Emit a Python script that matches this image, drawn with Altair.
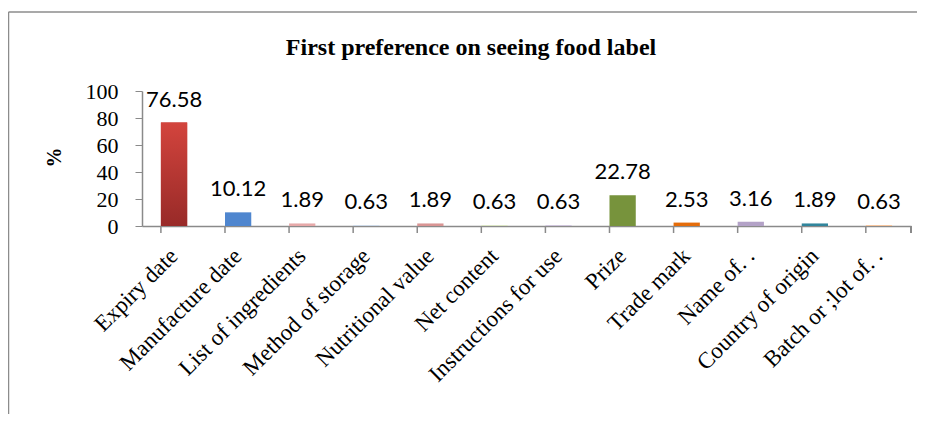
import altair as alt
import pandas as pd

categories = ["Expiry date", "Manufacture date", "List of ingredients", "Method of storage",
              "Nutritional value", "Net content", "Instructions for use", "Prize",
              "Trade mark", "Name of. .", "Country of origin", "Batch or ;lot of. ."]
values = [76.58, 10.12, 1.89, 0.63, 1.89, 0.63, 0.63, 22.78, 2.53, 3.16, 1.89, 0.63]
colors = ["#be3a34", "#4f86cf", "#e6a9a9", "#c9d7e8", "#d99594", "#d9e4bd",
          "#ccc0da", "#77933c", "#e46c0a", "#b3a2c7", "#31859c", "#fac090"]
title_text = "First preference on seeing food label"
y_ticks = [0, 20, 40, 60, 80, 100]

W, H = 769, 135

df = pd.DataFrame({"cat": categories, "val": values, "col": colors})

x_axis = alt.Axis(title=None, labelAngle=-45, labelAlign="right", labelBaseline="middle",
                  labelFont="Liberation Serif", labelFontSize=23, labelColor="#000000",
                  labelPadding=26, labelOverlap=False, labelLimit=500, ticks=False,
                  domainColor="#8a8a8a", domainWidth=1.5)
y_axis = alt.Axis(title="%", values=y_ticks, grid=False, tickSize=7, tickColor="#8a8a8a",
                  domainColor="#8a8a8a", domainWidth=1.5, labelFont="Liberation Serif",
                  labelFontSize=22, labelColor="#000000", labelPadding=17,
                  labelOverlap=False,
                  titleFont="Liberation Serif", titleFontSize=20, titleFontWeight="bold",
                  titleAngle=-90, titleX=-88, titleY=66, titleAlign="center",
                  titleBaseline="middle", titleColor="#000000")
x_scale = alt.Scale(paddingInner=0.59, paddingOuter=0.295)
y_scale = alt.Scale(domain=[0, 100])

x_enc = alt.X("cat:N", sort=categories, scale=x_scale, axis=x_axis)
y_enc = alt.Y("val:Q", scale=y_scale, axis=y_axis)

base = alt.Chart(df)

bars = base.mark_bar().encode(
    x=x_enc, y=y_enc,
    color=alt.Color("col:N", scale=None, legend=None),
)

red_grad = {"gradient": "linear", "x1": 0, "y1": 0, "x2": 0, "y2": 1,
            "stops": [{"offset": 0, "color": "#d3443d"}, {"offset": 1, "color": "#982a28"}]}
red_bar = base.transform_filter(alt.datum.cat == categories[0]).mark_bar().encode(
    x=x_enc, y=y_enc, color=alt.value(red_grad))

labels = base.mark_text(font="Lato", fontSize=22, color="#000000", baseline="alphabetic",
                        dy=-16).encode(
    x=x_enc, y=y_enc, text=alt.Text("val:Q", format=".2f"))

ticks = base.mark_rule(color="#8a8a8a", strokeWidth=1.5).encode(
    x=alt.X("cat:N", sort=categories, scale=x_scale, axis=x_axis, bandPosition=0),
    y=alt.value(H), y2=alt.value(H + 7))
end_tick = base.mark_rule(color="#8a8a8a", strokeWidth=1.5).encode(
    x=alt.value(W), y=alt.value(H), y2=alt.value(H + 7))

title_df = pd.DataFrame({"t": [title_text]})
title = alt.Chart(title_df).mark_text(font="Liberation Serif", fontSize=24, fontWeight="bold",
                                      color="#000000", baseline="alphabetic", align="center").encode(
    text="t:N", x=alt.value(329), y=alt.value(-36))

frame_top = alt.Chart(title_df).mark_rule(color="#8c8c8c", strokeWidth=1.5).encode(
    x=alt.value(-133.5), x2=alt.value(W + 20), y=alt.value(-79))
frame_left = alt.Chart(title_df).mark_rule(color="#8c8c8c", strokeWidth=1.5).encode(
    x=alt.value(-133.5), y=alt.value(-79), y2=alt.value(H + 200))

chart = alt.layer(bars, frame_top, frame_left, title, red_bar, labels, ticks, end_tick).properties(
    width=W, height=H,
    autosize=alt.AutoSizeParams(type="none"),
    padding={"left": 134, "top": 83, "right": 6, "bottom": 188},
    background="#ffffff",
).configure_view(stroke=None).configure_axis(labelOverlap=False, labelLimit=500)

chart.save("out.html", embed_options={"renderer": "svg", "actions": False})
